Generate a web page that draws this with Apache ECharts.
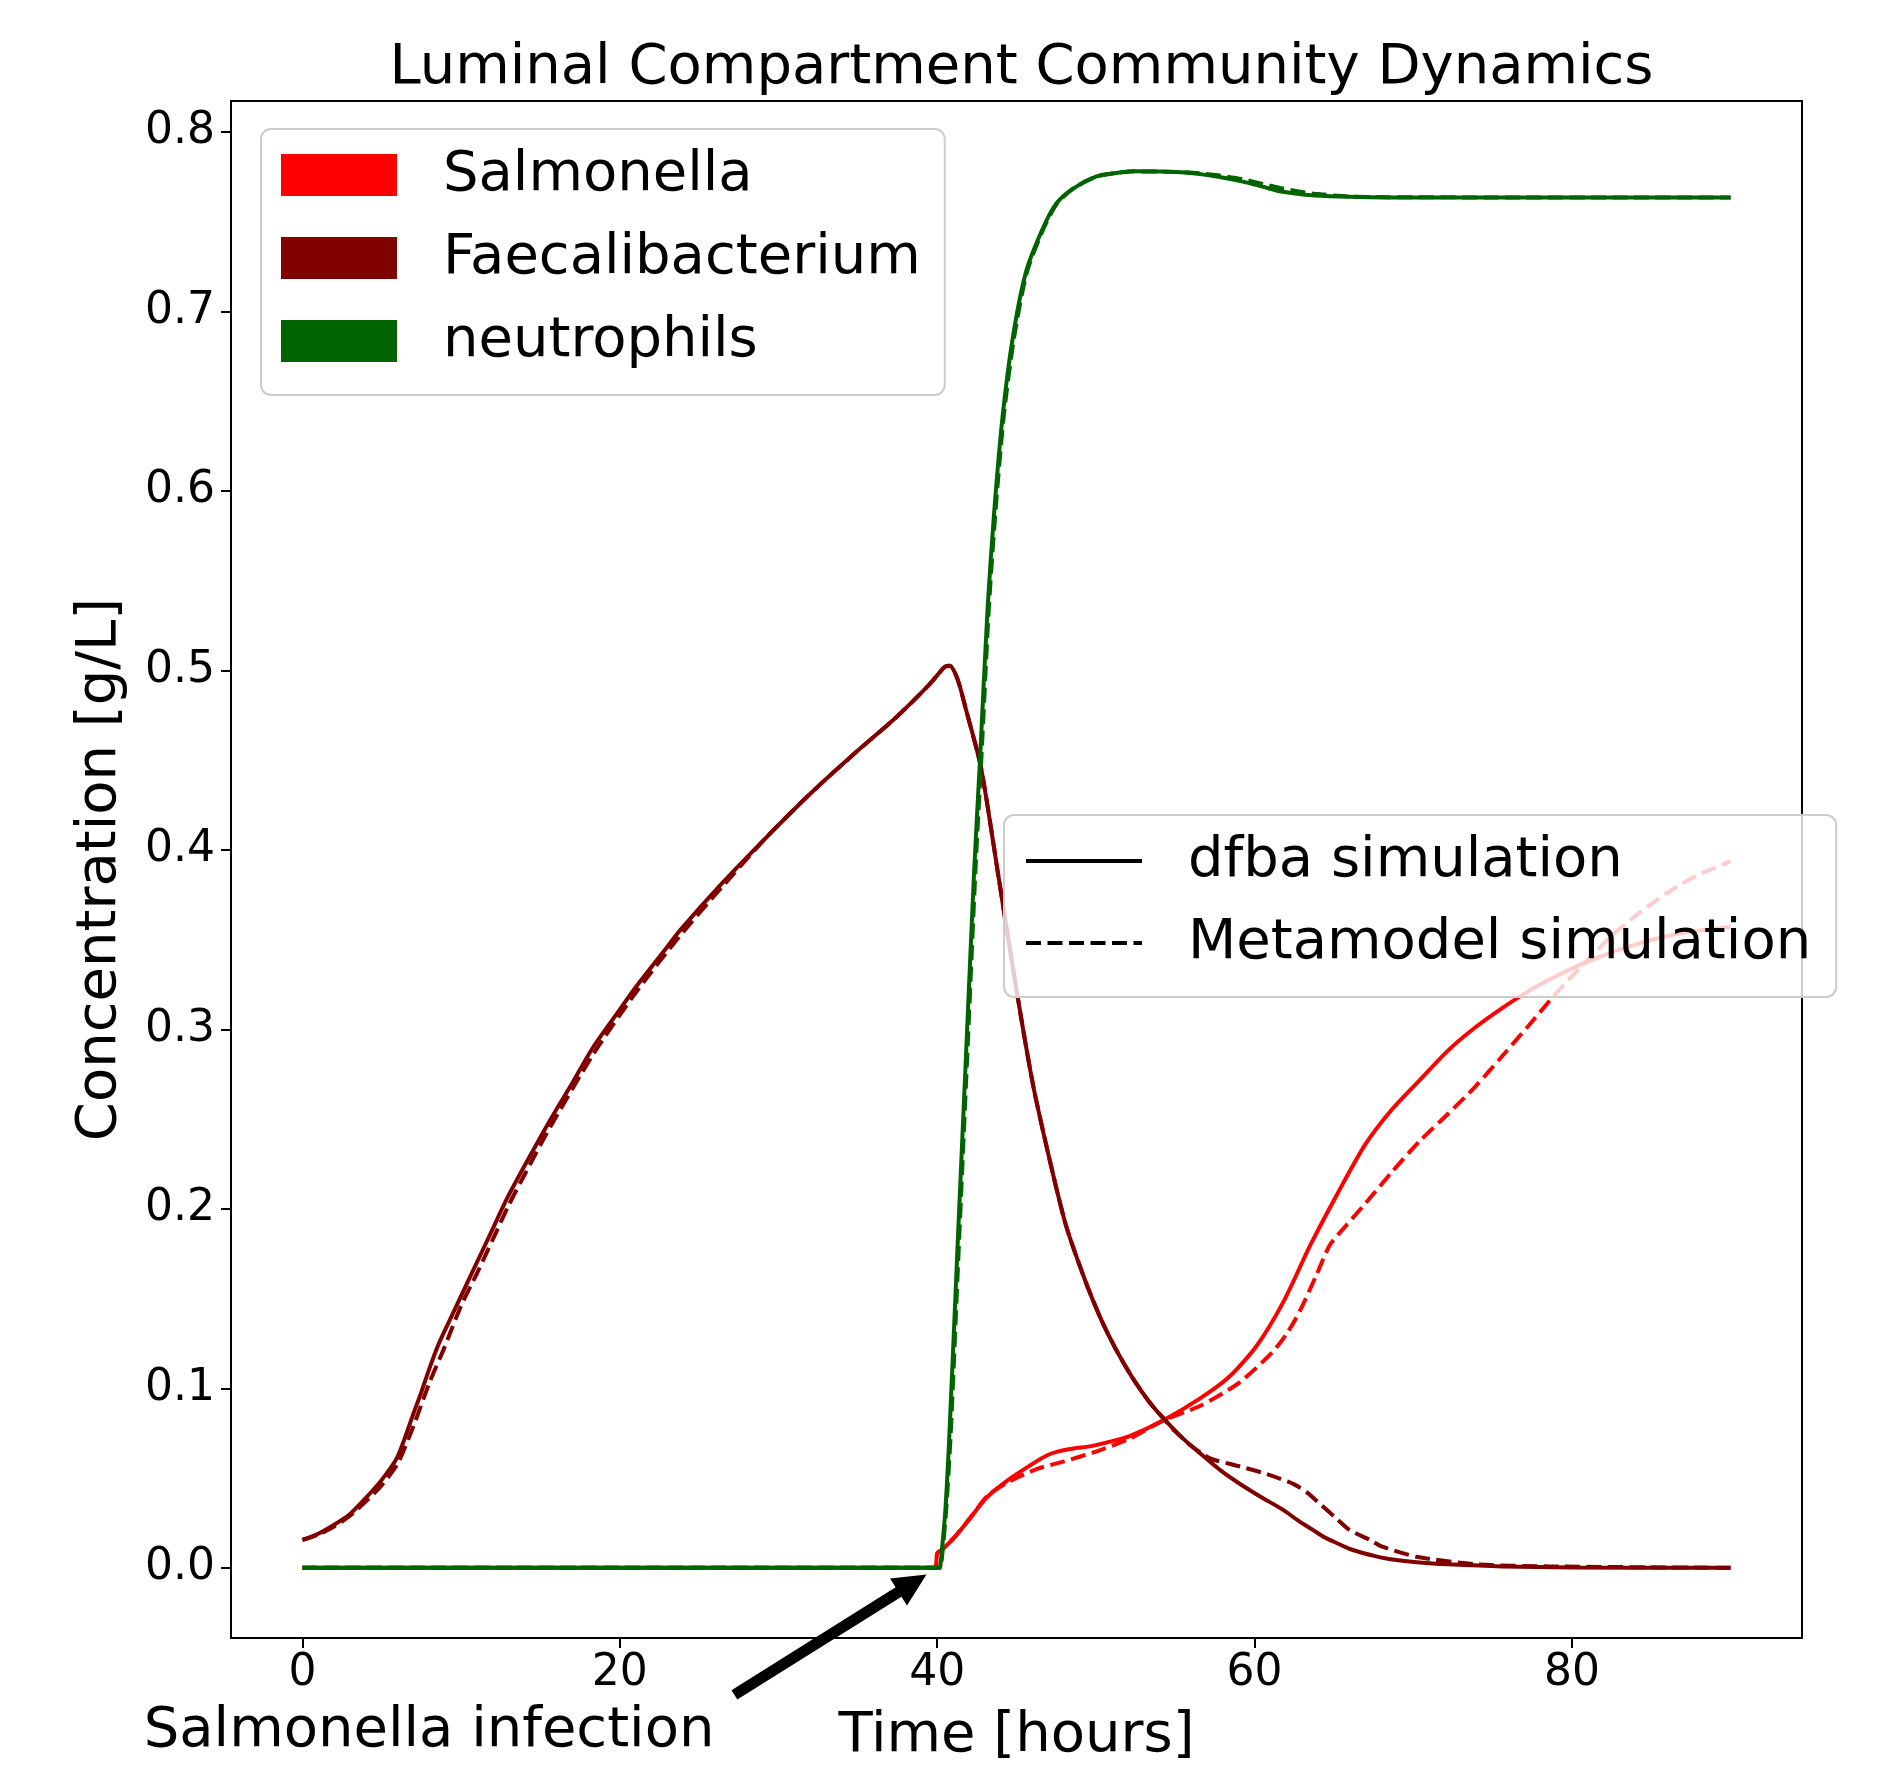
<!DOCTYPE html>
<html><head><meta charset="utf-8">
<script src="https://cdn.jsdelivr.net/npm/echarts@6/dist/echarts.min.js"></script>
<style>html,body{margin:0;padding:0;background:#fff;width:1884px;height:1769px;overflow:hidden}#c{width:1884px;height:1769px}</style>
</head><body><div id="c"></div>
<script>
// ---------- data ----------
const xTicks = [0, 20, 40, 60, 80];
const yTicks = [0, 0.1, 0.2, 0.3, 0.4, 0.5, 0.6, 0.7, 0.8];

const speciesNames = ['Salmonella', 'Faecalibacterium', 'neutrophils'];
const speciesColors = ['#ff0000', '#800000', '#006400'];
const styleNames = ['dfba simulation', 'Metamodel simulation'];

const salDfbaT = [0, 39.94, 39.95, 40.0, 40.3, 41.07, 42.11, 43.15, 44.53, 46.26, 47.0, 47.64, 48.6, 49.71, 50.9, 52.13, 54.2, 56.62, 58.35, 60.08, 61.81, 63.53, 65.26, 66.99, 68.72, 70.44, 72.17, 73.9, 75.63, 77.4, 79.09, 80.8, 82.54, 84.3, 86.0, 88.0, 90.0];
const salDfba  = [0, 0, 0, 0.008, 0.010, 0.0168, 0.0281, 0.0394, 0.0493, 0.0593, 0.063, 0.0649, 0.0665, 0.0678, 0.0703, 0.0734, 0.0819, 0.0947, 0.106, 0.123, 0.148, 0.180, 0.209, 0.236, 0.256, 0.272, 0.288, 0.301, 0.312, 0.322, 0.330, 0.337, 0.343, 0.348, 0.352, 0.355, 0.357];

const salMetaT = [0, 39.94, 39.95, 40.0, 40.3, 41.07, 42.11, 43.15, 44.53, 46.26, 47.99, 50.06, 52.13, 54.2, 56.62, 59.04, 61.11, 62.0, 62.84, 63.88, 64.74, 65.8, 66.99, 68.7, 70.44, 72.2, 73.9, 75.6, 77.36, 79.1, 80.81, 82.5, 84.27, 86.0, 87.72, 90.0];
const salMeta  = [0, 0, 0, 0.008, 0.010, 0.0168, 0.028, 0.040, 0.048, 0.055, 0.0593, 0.0649, 0.072, 0.0819, 0.0904, 0.1032, 0.120, 0.130, 0.1428, 0.1627, 0.1797, 0.191, 0.203, 0.221, 0.238, 0.253, 0.268, 0.285, 0.303, 0.321, 0.337, 0.352, 0.365, 0.376, 0.385, 0.3936];

const faeDfbaT = [0, 1, 2, 3, 4, 5, 6, 7, 7.5, 8, 8.6, 9.5, 10.67, 12, 12.85, 14, 15.58, 17, 18.32, 20, 21.05, 23, 23.78, 26.51, 29.24, 31.97, 34.7, 37.44, 39.5, 40.17, 40.5, 40.8, 41.1, 41.4, 41.82, 42.76, 43.92, 44.97, 46.02, 47.07, 48.12, 49.38, 50.3, 51.27, 52.3, 53.37, 54.42, 55.5, 56.6, 57.9, 59.04, 60.4, 61.8, 62.8, 63.7, 64.4, 65.0, 66.0, 66.6, 67.6, 68.7, 70.4, 72.2, 75.6, 80, 90];
const faeDfba  = [0.0155, 0.019, 0.024, 0.030, 0.039, 0.049, 0.062, 0.086, 0.098, 0.111, 0.125, 0.142, 0.164, 0.189, 0.205, 0.224, 0.249, 0.270, 0.290, 0.311, 0.324, 0.346, 0.355, 0.382, 0.407, 0.431, 0.453, 0.474, 0.492, 0.499, 0.502, 0.5025, 0.499, 0.492, 0.478, 0.446, 0.382, 0.3235, 0.270, 0.228, 0.1907, 0.1588, 0.139, 0.1216, 0.106, 0.0924, 0.0817, 0.072, 0.0635, 0.054, 0.047, 0.0395, 0.0323, 0.026, 0.021, 0.017, 0.0145, 0.0105, 0.0088, 0.0065, 0.0046, 0.003, 0.002, 0.0008, 0.0002, 0];

const faeMetaT = [0, 1, 2, 3, 4, 5, 6, 7, 8, 8.9, 10, 11, 12, 13, 14, 15.58, 18.32, 21.05, 23.78, 26.51, 29.24, 31.97, 34.7, 37.44, 39.5, 40.17, 40.5, 40.8, 41.1, 41.4, 41.82, 42.76, 43.92, 44.97, 46.02, 47.07, 48.12, 49.38, 50.3, 51.27, 52.3, 53.37, 54.42, 55, 56, 57.2, 58.4, 59.5, 60.5, 61.5, 62.5, 63.3, 64.2, 65.1, 66, 67.3, 68, 70.2, 73.9, 78.6, 90];
const faeMeta  = [0.0155, 0.0185, 0.023, 0.029, 0.037, 0.046, 0.058, 0.079, 0.103, 0.1217, 0.146, 0.164, 0.183, 0.202, 0.219, 0.245, 0.286, 0.321, 0.352, 0.380, 0.407, 0.431, 0.453, 0.474, 0.492, 0.499, 0.502, 0.5025, 0.499, 0.492, 0.478, 0.446, 0.382, 0.3235, 0.270, 0.228, 0.1907, 0.1588, 0.139, 0.1216, 0.106, 0.0924, 0.0817, 0.076, 0.068, 0.061, 0.058, 0.0555, 0.053, 0.050, 0.0465, 0.042, 0.035, 0.028, 0.021, 0.0155, 0.012, 0.0062, 0.002, 0.0008, 0];

const neuDfbaT = [0, 40.19, 40.2, 40.5, 40.77, 41.29, 41.82, 42.34, 42.7, 43.18, 43.6, 44.13, 44.76, 45.6, 46.65, 47.5, 48.5, 50.0, 51.2, 52.5, 54.5, 56.1, 57.7, 59.2, 60.5, 61.6, 62.7, 63.8, 66.0, 68.4, 75, 90];
const neuDfba  = [0, 0, 0, 0.03, 0.074, 0.18, 0.286, 0.39, 0.45, 0.535, 0.589, 0.642, 0.685, 0.722, 0.746, 0.760, 0.768, 0.775, 0.777, 0.778, 0.7778, 0.777, 0.775, 0.7724, 0.7695, 0.7669, 0.7655, 0.7645, 0.7638, 0.7635, 0.7635, 0.7635];

const neuMetaT = [0, 40.24, 40.25, 40.55, 40.85, 41.37, 41.9, 42.42, 42.78, 43.26, 43.68, 44.2, 44.84, 45.66, 46.7, 47.55, 48.5, 50.0, 51.2, 52.5, 54.5, 56.1, 57.7, 59.2, 60.5, 61.6, 62.7, 63.8, 66.0, 68.4, 75, 90];
const neuMeta  = [0, 0, 0, 0.03, 0.074, 0.18, 0.286, 0.39, 0.45, 0.535, 0.589, 0.642, 0.685, 0.722, 0.746, 0.760, 0.768, 0.775, 0.777, 0.778, 0.7778, 0.7772, 0.7758, 0.7737, 0.771, 0.7688, 0.767, 0.7655, 0.764, 0.7636, 0.7635, 0.7635];

// annotation (data coordinates)
const annotationText = 'Salmonella infection';
const annotationXY = [40, 0];
const annotationTextXY = [-10, -0.1];
const arrowStartXY = [26.55, -0.0745];

// ---------- chart ----------
const FONT = 'DejaVu Sans';
const DASH = [15, 6.5];
function pairs(t, v) { return t.map((x, i) => [x, v[i]]); }
function lineSeries(name, t, v, color, dashed) {
  return {
    type: 'line', name: name, data: pairs(t, v), symbol: 'none', showSymbol: false, smooth: 0.25,
    lineStyle: { color: color, width: 4, type: dashed ? DASH : 'solid' },
    itemStyle: { color: color }, emphasis: { disabled: true }, z: 2
  };
}

const chart = echarts.init(document.getElementById('c'), null, { renderer: 'canvas', width: 1884, height: 1769 });

const axisCommon = {
  type: 'value',
  nameLocation: 'middle',
  nameTextStyle: { fontFamily: FONT, fontSize: 56, color: '#000' },
  axisLine: { show: true, onZero: false, lineStyle: { color: '#000', width: 2 } },
  splitLine: { show: false }
};

const option = {
  animation: false,
  backgroundColor: '#ffffff',
  title: {
    text: 'Luminal Compartment Community Dynamics',
    left: 1016.5, textAlign: 'center', top: 35,
    textStyle: { fontFamily: FONT, fontSize: 56, fontWeight: 'normal', color: '#000' }
  },
  grid: { left: 231, top: 101, width: 1571, height: 1542, show: true, borderColor: '#000', borderWidth: 2, backgroundColor: 'transparent', containLabel: false },
  xAxis: Object.assign({}, axisCommon, {
    min: -4.5, max: 94.5, name: 'Time [hours]', nameGap: 70,
    axisTick: { show: true, customValues: xTicks, length: 10, lineStyle: { color: '#000', width: 2 } },
    axisLabel: { customValues: xTicks, margin: 14, fontFamily: FONT, fontSize: 44, color: '#000' }
  }),
  yAxis: Object.assign({}, axisCommon, {
    min: -0.0391, max: 0.8172, name: 'Concentration [g/L]', nameGap: 103,
    axisTick: { show: true, customValues: yTicks, length: 10, lineStyle: { color: '#000', width: 2 } },
    axisLabel: { customValues: yTicks, margin: 16, fontFamily: FONT, fontSize: 44, color: '#000', formatter: v => v.toFixed(1) }
  }),
  legend: [{
    orient: 'vertical', left: 261, top: 129, padding: [18, 24, 26, 20],
    itemWidth: 116, itemHeight: 42, itemGap: 27, selectedMode: false,
    backgroundColor: 'rgba(255,255,255,0.8)', borderColor: '#cccccc', borderWidth: 2, borderRadius: 10,
    textStyle: { fontFamily: FONT, fontSize: 56, color: '#000', padding: [0, 0, 0, 41] },
    data: speciesNames.map((n, i) => ({ name: n, icon: 'rect', itemStyle: { color: speciesColors[i], borderWidth: 0 } }))
  }, {
    orient: 'vertical', left: 1004, top: 815, padding: [18, 25, 26, 20],
    itemWidth: 116, itemHeight: 42, itemGap: 26, selectedMode: false,
    backgroundColor: 'rgba(255,255,255,0.8)', borderColor: '#cccccc', borderWidth: 2, borderRadius: 10,
    lineStyle: { width: 4 },
    itemStyle: { color: 'rgba(0,0,0,0)', borderWidth: 0, opacity: 0 },
    textStyle: { fontFamily: FONT, fontSize: 56, color: '#000', padding: [0, 0, 0, 41] },
    data: styleNames
  }],
  series: [
    lineSeries(speciesNames[0], salDfbaT, salDfba, speciesColors[0], false),
    lineSeries(speciesNames[0] + ' metamodel', salMetaT, salMeta, speciesColors[0], true),
    lineSeries(speciesNames[1], faeDfbaT, faeDfba, speciesColors[1], false),
    lineSeries(speciesNames[1] + ' metamodel', faeMetaT, faeMeta, speciesColors[1], true),
    lineSeries(speciesNames[2], neuDfbaT, neuDfba, speciesColors[2], false),
    lineSeries(speciesNames[2] + ' metamodel', neuMetaT, neuMeta, speciesColors[2], true),
    lineSeries(styleNames[0], [], [], '#000000', false),
    lineSeries(styleNames[1], [], [], '#000000', true)
  ]
};
chart.setOption(option);

// annotation arrow + text placed through the chart's own scales
(function () {
  const p0 = chart.convertToPixel({ gridIndex: 0 }, arrowStartXY);
  const p1 = chart.convertToPixel({ gridIndex: 0 }, annotationXY);
  const dx = p1[0] - p0[0], dy = p1[1] - p0[1];
  const L = Math.hypot(dx, dy), ux = dx / L, uy = dy / L, nx = -uy, ny = ux;
  const tail = [p0[0] + 0.05 * dx, p0[1] + 0.05 * dy];
  const tip = [p1[0] - 0.05 * dx, p1[1] - 0.05 * dy];
  const bh = 5.5, hh = 16, hl = 33;
  const base = [tip[0] - hl * ux, tip[1] - hl * uy];
  const pts = [
    [tail[0] + nx * bh, tail[1] + ny * bh],
    [base[0] + nx * bh, base[1] + ny * bh],
    [base[0] + nx * hh, base[1] + ny * hh],
    tip,
    [base[0] - nx * hh, base[1] - ny * hh],
    [base[0] - nx * bh, base[1] - ny * bh],
    [tail[0] - nx * bh, tail[1] - ny * bh]
  ];
  const tp = chart.convertToPixel({ gridIndex: 0 }, annotationTextXY);
  chart.setOption({
    graphic: [
      { type: 'polygon', shape: { points: pts }, style: { fill: '#000' }, z: 100, silent: true },
      { type: 'text', x: tp[0], y: tp[1] - 15.5, z: 100, silent: true,
        style: { text: annotationText, font: '56px "DejaVu Sans"', fill: '#000', align: 'left', verticalAlign: 'middle' } }
    ]
  });
})();
</script>
</body></html>
